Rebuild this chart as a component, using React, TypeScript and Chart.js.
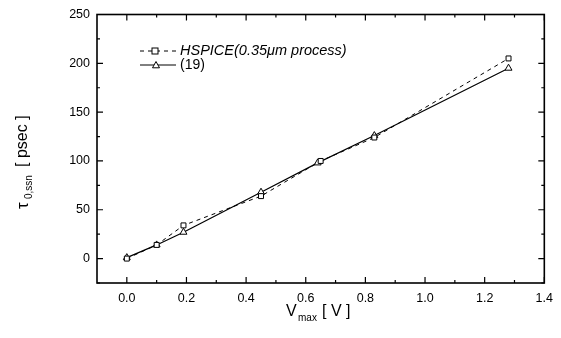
import React, { useEffect, useRef } from "react";
import { Chart, registerables } from "chart.js";

Chart.register(...registerables);

const vmaxHspice = [0, 0.1, 0.19, 0.45, 0.65, 0.83, 1.28];
const tauHspice = [0, 14, 34, 64, 100, 124, 205];
const vmaxModel = [0, 0.1, 0.19, 0.45, 0.64, 0.83, 1.28];
const tauModel = [1, 14, 27, 68, 98, 126, 195];
const legendLabels = ["HSPICE(0.35\u03bcm process)", "(19)"];

const FONT = "'Liberation Sans', Arial, sans-serif";

function drawTri(ctx: CanvasRenderingContext2D, x: number, y: number, r: number) {
  ctx.beginPath();
  ctx.moveTo(x, y - r);
  ctx.lineTo(x + r, y + r * 0.8);
  ctx.lineTo(x - r, y + r * 0.8);
  ctx.closePath();
  ctx.fillStyle = "#fff";
  ctx.fill();
  ctx.stroke();
}
function drawSq(ctx: CanvasRenderingContext2D, x: number, y: number, r: number) {
  ctx.fillStyle = "#fff";
  ctx.fillRect(x - r, y - r, 2 * r, 2 * r);
  ctx.strokeRect(x - r, y - r, 2 * r, 2 * r);
}

const decor = {
  id: "decor",
  afterDraw(chart: any) {
    const ctx: CanvasRenderingContext2D = chart.ctx;
    const { left, right, top, bottom } = chart.chartArea;
    const xs = chart.scales.x;
    const ys = chart.scales.y;
    ctx.save();
    ctx.strokeStyle = "#000";
    ctx.lineWidth = 1.6;
    ctx.strokeRect(left, top, right - left, bottom - top);
    ctx.lineWidth = 1.2;
    ctx.beginPath();
    for (let v = 0; v <= 1.4001; v += 0.1) {
      const px = xs.getPixelForValue(v);
      const major = Math.round(v * 10) % 2 === 0;
      const L = major ? 6 : 3;
      ctx.moveTo(px, bottom);
      ctx.lineTo(px, bottom - L);
      ctx.moveTo(px, top);
      ctx.lineTo(px, top + L);
    }
    for (let v = -25; v <= 250; v += 25) {
      const py = ys.getPixelForValue(v);
      const major = v % 50 === 0;
      const L = major ? 6 : 3;
      ctx.moveTo(left, py);
      ctx.lineTo(left + L, py);
      ctx.moveTo(right, py);
      ctx.lineTo(right - L, py);
    }
    ctx.stroke();

    // legend
    ctx.lineWidth = 1;
    ctx.setLineDash([4, 4]);
    ctx.beginPath();
    ctx.moveTo(140, 51);
    ctx.lineTo(176, 51);
    ctx.stroke();
    ctx.setLineDash([]);
    drawSq(ctx, 155, 51, 3);
    ctx.beginPath();
    ctx.moveTo(140, 65);
    ctx.lineTo(176, 65);
    ctx.stroke();
    drawTri(ctx, 156, 65, 3.5);
    ctx.fillStyle = "#000";
    ctx.textBaseline = "middle";
    ctx.textAlign = "left";
    ctx.font = `italic 14.5px ${FONT}`;
    ctx.fillText(legendLabels[0], 180, 51);
    ctx.font = `14px ${FONT}`;
    ctx.fillText(legendLabels[1], 180, 65);

    // x title
    ctx.font = `16px ${FONT}`;
    ctx.textAlign = "left";
    ctx.fillText("V", 286, 312);
    ctx.font = `10px ${FONT}`;
    ctx.fillText("max", 298, 318);
    ctx.font = `16px ${FONT}`;
    ctx.fillText("[ V ]", 322, 312);

    // y title
    ctx.save();
    ctx.translate(23, 160);
    ctx.rotate(-Math.PI / 2);
    ctx.textAlign = "left";
    ctx.font = `17px ${FONT}`;
    const start = -49;
    ctx.fillText("\u03c4", start, 0);
    ctx.font = `10px ${FONT}`;
    ctx.fillText("0,ssn", start + 10, 6);
    ctx.font = `16px ${FONT}`;
    ctx.fillText("[ psec ]", start + 42, 0);
    ctx.restore();

    ctx.restore();
  },
};

export default function App() {
  const ref = useRef<HTMLCanvasElement | null>(null);
  useEffect(() => {
    document.body.style.margin = "0";
    const ctx = ref.current!.getContext("2d")!;
    const chart = new Chart(ctx, {
      type: "line",
      data: {
        datasets: [
          {
            label: legendLabels[0],
            data: vmaxHspice.map((x, i) => ({ x, y: tauHspice[i] })),
            borderColor: "#000",
            borderWidth: 1,
            borderDash: [4, 4],
            pointStyle: "rect",
            pointRadius: 3.5,
            pointBackgroundColor: "#fff",
            pointBorderColor: "#000",
            pointBorderWidth: 1,
            tension: 0,
          },
          {
            label: legendLabels[1],
            data: vmaxModel.map((x, i) => ({ x, y: tauModel[i] })),
            borderColor: "#000",
            borderWidth: 1.2,
            pointStyle: "triangle",
            pointRadius: 4,
            pointBackgroundColor: "#fff",
            pointBorderColor: "#000",
            pointBorderWidth: 1,
            tension: 0,
          },
        ],
      },
      options: {
        animation: false,
        responsive: false,
        layout: { padding: { top: 10, right: 15, left: 0, bottom: 0 } },
        plugins: { legend: { display: false }, tooltip: { enabled: false } },
        scales: {
          x: {
            type: "linear",
            min: -0.1,
            max: 1.4,
            afterBuildTicks: (s: any) => {
              s.ticks = [0, 0.2, 0.4, 0.6, 0.8, 1.0, 1.2, 1.4].map((v) => ({ value: v }));
            },
            afterFit: (s: any) => {
              s.height = 55;
            },
            grid: { display: false, drawTicks: false },
            border: { display: false },
            ticks: {
              padding: 8,
              color: "#000",
              font: { family: FONT, size: 12.5 },
              maxRotation: 0,
              autoSkip: false,
              callback: (v: any) => Number(v).toFixed(1),
            },
          },
          y: {
            type: "linear",
            min: -25,
            max: 250,
            afterBuildTicks: (s: any) => {
              s.ticks = [0, 50, 100, 150, 200, 250].map((v) => ({ value: v }));
            },
            afterFit: (s: any) => {
              s.width = 97;
            },
            grid: { display: false, drawTicks: false },
            border: { display: false },
            ticks: {
              padding: 7,
              color: "#000",
              font: { family: FONT, size: 12.5 },
              autoSkip: false,
            },
          },
        },
      },
      plugins: [decor],
    } as any);
    return () => chart.destroy();
  }, []);
  return (
    <div style={{ position: "absolute", left: 0, top: 0, width: 561, height: 338, background: "#fff" }}>
      <canvas ref={ref} width={561} height={338} />
    </div>
  );
}
